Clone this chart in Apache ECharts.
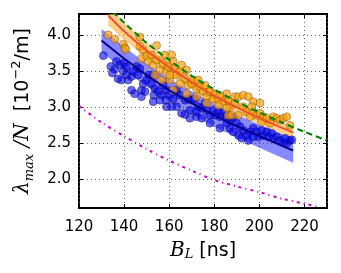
<!DOCTYPE html>
<html><head><meta charset="utf-8">
<script src="https://cdn.jsdelivr.net/npm/echarts@6/dist/echarts.min.js"></script>
<style>html,body{margin:0;padding:0;background:#fff}#c{width:341px;height:273px}</style>
</head><body><div id="c"></div>
<script>
const xTicks = [120, 140, 160, 180, 200, 220];
const yTicks = [2.0, 2.5, 3.0, 3.5, 4.0];

const blueX = [130.8,134.1,135.9,134.8,136.6,138.1,140,141,139.6,138.8,141.8,143.3,144,145.5,147,146.2,143.3,144.7,147.7,148.4,149.9,151.1,152.9,152.1,153.6,153.2,152.9,155.1,157.3,156.6,158.8,160.3,158.5,161.8,163.3,164.7,165.5,167,167,168.4,169.9,169.2,171.4,172.9,172.1,174.4,175.9,176.6,178.1,179.6,180.3,181.8,182.5,183.7,185.5,187,188.4,187,189.9,191.4,192.9,190.7,192.1,194.4,195.9,197.3,198.8,199.6,201,201.8,203.3,204,205.5,206.2,207.7,209.2,210.7,212.1,213.6,214.4,211.4,197.3,195.1,188.4,185.5,182.5,178.1,174.4,172.1,169.2,163.3,161.1,158.8,155.9,149.3,147.7,141,137.3];
const blueY = [3.72,3.57,3.53,3.48,3.64,3.59,3.62,3.56,3.50,3.38,3.38,3.43,3.50,3.57,3.54,3.45,3.24,3.19,3.24,3.33,3.38,3.45,3.44,3.33,3.26,3.17,3.08,3.22,3.31,3.17,3.24,3.17,3.10,3.12,3.24,3.17,2.92,2.90,3.10,3.12,3.10,2.96,3.12,3.01,2.87,2.99,3.06,2.96,2.89,2.96,2.89,2.94,2.87,2.92,2.89,2.82,2.86,2.71,2.78,2.73,2.68,2.61,2.57,2.61,2.66,2.71,2.66,2.59,2.68,2.61,2.66,2.59,2.64,2.57,2.59,2.54,2.51,2.50,2.54,2.55,2.57,2.59,2.54,2.66,2.78,2.71,2.78,2.85,2.94,2.85,3.01,3.01,3.01,3.10,3.22,3.15,3.45,3.40];

const orangeX = [132.9,135.9,139.6,140.3,140.7,147,147,148.4,147.7,149.9,150.7,152.1,152.9,154.4,154.4,155.9,157.3,158,158.8,159.6,160.3,161.1,161.8,162.5,163.3,161.8,164.7,165.5,167,167.7,168.4,169.9,170.7,172.1,172.9,173.6,175.1,175.9,176.6,178.1,179.6,180.3,181.8,182.5,184,185.5,186.2,187,186.2,187.7,189.2,190.7,192.9,195.1,197.3,192.9,194.4,190.7,195.9,197.3,198.8,200.3,201.8,201,203.3,204.8,206.2,207.7,209.2,210.7,212.1,213.6,196.6,185.5,181.8,176.6,172.1,167.7,164.7,160.3,156.6,153.6,189.2,200.3];
const orangeY = [4.01,3.95,3.88,3.83,3.81,3.98,3.85,3.80,3.68,3.71,3.64,3.73,3.59,3.66,3.86,3.52,3.61,3.73,3.50,3.57,3.38,3.73,3.64,3.54,3.45,3.24,3.50,3.59,3.40,3.52,3.31,3.33,3.38,3.26,3.38,3.29,3.22,3.31,3.15,3.22,3.12,3.19,3.10,3.17,3.08,3.19,3.10,3.01,2.89,2.89,3.15,3.15,3.17,3.15,3.08,3.01,2.94,2.89,2.87,2.94,2.89,2.92,2.87,2.80,2.85,2.78,2.87,2.85,2.82,2.85,2.87,2.75,3.01,2.99,3.03,3.06,3.15,3.19,3.33,3.45,3.38,3.45,3.06,3.06];

const orangeFitX = [133,140,150,160,170,180,190,200,215];
const orangeFitY = [4.28,4.06,3.79,3.56,3.35,3.16,3.00,2.85,2.65];
const orangeUpper = [4.42,4.18,3.90,3.66,3.44,3.25,3.08,2.93,2.73];
const orangeLower = [4.14,3.94,3.68,3.46,3.26,3.07,2.92,2.77,2.57];

const blueFitX = [130,140,150,160,170,180,190,200,215];
const blueFitY = [3.93,3.68,3.45,3.24,3.06,2.89,2.74,2.60,2.40];
const blueUpper = [4.09,3.84,3.61,3.40,3.22,3.05,2.90,2.76,2.57];
const blueLower = [3.77,3.52,3.29,3.08,2.90,2.73,2.58,2.44,2.23];

const greenX = [135,140,150,160,170,180,190,200,210,220,230];
const greenY = [4.33,4.18,3.90,3.66,3.44,3.25,3.08,2.93,2.79,2.66,2.54];

const magX = [120,130,140,150,160,170,180,190,200,210,220,226];
const magY = [3.02,2.79,2.60,2.42,2.26,2.12,1.99,1.90,1.82,1.73,1.66,1.62];

const zip = (a, b) => a.map((v, i) => [v, b[i]]);

function band(xs, up, lo, fill) {
  return {
    type: 'custom', z: 1, clip: true, silent: true,
    data: [[xs[0], lo[0]]],
    renderItem: function (params, api) {
      const pts = [];
      for (let i = 0; i < xs.length; i++) pts.push(api.coord([xs[i], up[i]]));
      for (let i = xs.length - 1; i >= 0; i--) pts.push(api.coord([xs[i], lo[i]]));
      return { type: 'polygon', shape: { points: pts }, style: { fill: fill, stroke: 'none' } };
    }
  };
}

const chart = echarts.init(document.getElementById('c'), null, { renderer: 'canvas' });
const tickFont = { fontFamily: 'DejaVu Sans', fontSize: 15, color: '#000' };
const gridLine = { show: true, lineStyle: { color: '#666', width: 1, type: [1, 3] } };

chart.setOption({
  animation: false,
  grid: { left: 79, right: 14, top: 14, bottom: 65, show: true, borderColor: '#000', borderWidth: 2, backgroundColor: 'transparent' },
  xAxis: [{
    type: 'value', min: 120, max: 230, interval: 20,
    axisLine: { show: false },
    axisTick: { show: true, inside: true, length: 4, lineStyle: { color: '#000', width: 1 } },
    axisLabel: Object.assign({ margin: 12, customValues: xTicks }, tickFont),
    splitLine: gridLine,
    name: '{i|B}{sub|L}{n| [ns]}', nameLocation: 'middle', nameGap: 29,
    nameTextStyle: { rich: {
      i: { fontFamily: 'DejaVu Serif', fontStyle: 'italic', fontSize: 20, color: '#000', lineHeight: 24, verticalAlign: 'bottom' },
      sub: { fontFamily: 'DejaVu Serif', fontStyle: 'italic', fontSize: 13, color: '#000', lineHeight: 19, verticalAlign: 'bottom' },
      n: { fontFamily: 'DejaVu Sans', fontSize: 19, color: '#000', lineHeight: 24, verticalAlign: 'bottom' }
    } }
  }, {
    type: 'value', min: 120, max: 230, interval: 20, position: 'top',
    axisLine: { show: false }, axisLabel: { show: false }, splitLine: { show: false },
    axisTick: { show: true, inside: true, length: 4, lineStyle: { color: '#000' } }
  }],
  yAxis: [{
    type: 'value', min: 1.6, max: 4.3,
    axisLine: { show: false },
    axisTick: { show: true, inside: true, length: 4, customValues: yTicks, lineStyle: { color: '#000' } },
    axisLabel: Object.assign({ margin: 8, customValues: yTicks, formatter: v => v.toFixed(1) }, tickFont),
    splitLine: gridLine,
    name: '{i|λ}{sub|max}{i| /N}{n|  [10}{sup|−2}{n|/m]}', nameLocation: 'middle', nameGap: 40, nameRotate: 90,
    nameTextStyle: { rich: {
      i: { fontFamily: 'DejaVu Serif', fontStyle: 'italic', fontSize: 20, color: '#000', lineHeight: 26, verticalAlign: 'middle' },
      sub: { fontFamily: 'DejaVu Serif', fontStyle: 'italic', fontSize: 13, color: '#000', lineHeight: 16, verticalAlign: 'bottom' },
      sup: { fontFamily: 'DejaVu Sans', fontSize: 13, color: '#000', lineHeight: 16, verticalAlign: 'top' },
      n: { fontFamily: 'DejaVu Sans', fontSize: 19, color: '#000', lineHeight: 26, verticalAlign: 'middle' }
    } }
  }, {
    type: 'value', min: 1.6, max: 4.3, position: 'right',
    axisLine: { show: false }, axisLabel: { show: false }, splitLine: { show: false },
    axisTick: { show: true, inside: true, length: 4, customValues: yTicks, lineStyle: { color: '#000' } }
  }],
  series: [
    band(blueFitX, blueUpper, blueLower, 'rgba(40,40,255,0.55)'),
    band(orangeFitX, orangeUpper, orangeLower, 'rgba(255,175,60,0.6)'),
    { type: 'scatter', z: 2, data: zip(blueX, blueY), symbolSize: 8,
      itemStyle: { color: 'rgba(10,10,245,0.78)', borderColor: 'rgba(0,0,50,0.75)', borderWidth: 0.6 } },
    { type: 'scatter', z: 2, data: zip(orangeX, orangeY), symbolSize: 8,
      itemStyle: { color: 'rgba(250,160,10,0.88)', borderColor: 'rgba(80,50,0,0.75)', borderWidth: 0.6 } },
    { type: 'line', z: 3, data: zip(blueFitX, blueFitY), smooth: 0.3, showSymbol: false,
      lineStyle: { color: '#00008b', width: 2 } },
    { type: 'line', z: 3, data: zip(orangeFitX, orangeFitY), smooth: 0.3, showSymbol: false,
      lineStyle: { color: '#f0522a', width: 2 } },
    { type: 'line', z: 4, data: zip(greenX, greenY), smooth: 0.3, showSymbol: false,
      lineStyle: { color: '#008000', width: 2, type: [6, 4] } },
    { type: 'line', z: 3, data: zip(magX, magY), smooth: 0.3, showSymbol: false,
      lineStyle: { color: '#cc00cc', width: 2, type: [3, 4, 1, 4] } }
  ]
});
</script></body></html>
